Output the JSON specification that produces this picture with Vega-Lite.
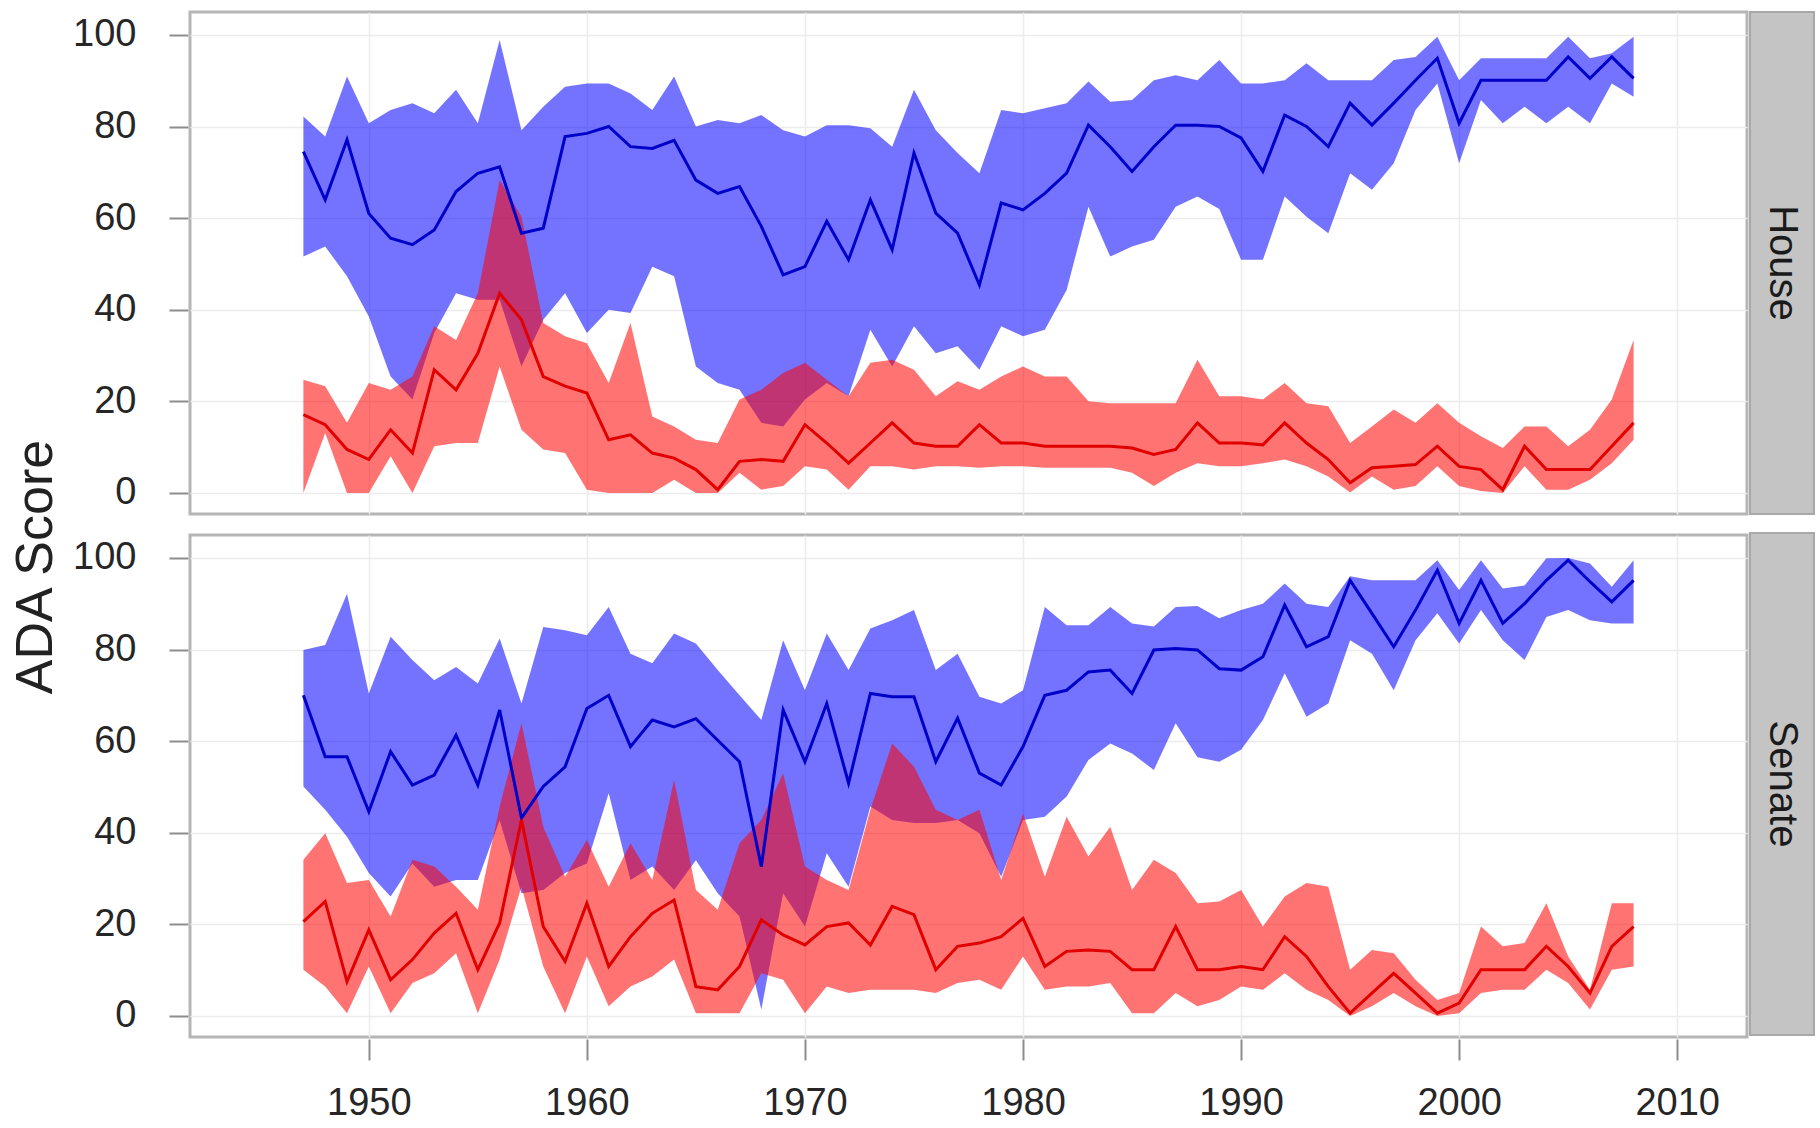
{
"$schema": "https://vega.github.io/schema/vega-lite/v6.json",
"background": "white",
"padding": {"left": 8, "top": 10, "right": 5, "bottom": 3},
"config": {
  "font": "Liberation Sans",
  "view": {"stroke": "#b5b5b5", "strokeWidth": 3},
  "axis": {"labelFont": "Liberation Sans", "labelFontSize": 38, "labelColor": "#262626", "tickColor": "#8c8c8c", "tickWidth": 2, "domain": false, "gridColor": "#ececec", "gridWidth": 1.5}
},
"datasets": {"ada": [
{"chamber":"House","party":"Democrat","year":1947,"low":51.6,"mid":74.5,"high":82.2},
{"chamber":"House","party":"Democrat","year":1948,"low":53.8,"mid":64,"high":77.8},
{"chamber":"House","party":"Democrat","year":1949,"low":47.3,"mid":77.1,"high":90.9},
{"chamber":"House","party":"Democrat","year":1950,"low":38.5,"mid":61,"high":80.7},
{"chamber":"House","party":"Democrat","year":1951,"low":25.4,"mid":55.6,"high":83.6},
{"chamber":"House","party":"Democrat","year":1952,"low":20.4,"mid":54.2,"high":85.1},
{"chamber":"House","party":"Democrat","year":1953,"low":34.9,"mid":57.4,"high":82.9},
{"chamber":"House","party":"Democrat","year":1954,"low":43.6,"mid":65.8,"high":88},
{"chamber":"House","party":"Democrat","year":1955,"low":42.2,"mid":69.8,"high":80.7},
{"chamber":"House","party":"Democrat","year":1956,"low":42.2,"mid":71.2,"high":98.9},
{"chamber":"House","party":"Democrat","year":1957,"low":27.6,"mid":56.7,"high":79.2},
{"chamber":"House","party":"Democrat","year":1958,"low":37.8,"mid":57.8,"high":84.3},
{"chamber":"House","party":"Democrat","year":1959,"low":43.6,"mid":77.8,"high":88.7},
{"chamber":"House","party":"Democrat","year":1960,"low":34.9,"mid":78.5,"high":89.4},
{"chamber":"House","party":"Democrat","year":1961,"low":40,"mid":80,"high":89.4},
{"chamber":"House","party":"Democrat","year":1962,"low":39.3,"mid":75.6,"high":87.2},
{"chamber":"House","party":"Democrat","year":1963,"low":49.4,"mid":75.2,"high":83.6},
{"chamber":"House","party":"Democrat","year":1964,"low":47.3,"mid":77,"high":90.9},
{"chamber":"House","party":"Democrat","year":1965,"low":27.6,"mid":68.3,"high":80},
{"chamber":"House","party":"Democrat","year":1966,"low":24,"mid":65.4,"high":81.4},
{"chamber":"House","party":"Democrat","year":1967,"low":22.5,"mid":66.9,"high":80.7},
{"chamber":"House","party":"Democrat","year":1968,"low":15.3,"mid":58.2,"high":82.5},
{"chamber":"House","party":"Democrat","year":1969,"low":14.5,"mid":47.6,"high":79.2},
{"chamber":"House","party":"Democrat","year":1970,"low":20.4,"mid":49.4,"high":77.8},
{"chamber":"House","party":"Democrat","year":1971,"low":24,"mid":59.3,"high":80.3},
{"chamber":"House","party":"Democrat","year":1972,"low":21.1,"mid":50.9,"high":80.3},
{"chamber":"House","party":"Democrat","year":1973,"low":35.6,"mid":64,"high":79.6},
{"chamber":"House","party":"Democrat","year":1974,"low":27.6,"mid":53.1,"high":75.6},
{"chamber":"House","party":"Democrat","year":1975,"low":36.4,"mid":74.2,"high":88},
{"chamber":"House","party":"Democrat","year":1976,"low":30.5,"mid":61.1,"high":79.2},
{"chamber":"House","party":"Democrat","year":1977,"low":32,"mid":56.7,"high":74.2},
{"chamber":"House","party":"Democrat","year":1978,"low":26.9,"mid":45.4,"high":69.8},
{"chamber":"House","party":"Democrat","year":1979,"low":36.4,"mid":63.3,"high":83.6},
{"chamber":"House","party":"Democrat","year":1980,"low":34.2,"mid":61.8,"high":82.9},
{"chamber":"House","party":"Democrat","year":1981,"low":35.6,"mid":65.4,"high":84},
{"chamber":"House","party":"Democrat","year":1982,"low":44.3,"mid":69.8,"high":85.1},
{"chamber":"House","party":"Democrat","year":1983,"low":62.5,"mid":80.3,"high":89.8},
{"chamber":"House","party":"Democrat","year":1984,"low":51.6,"mid":75.6,"high":85.4},
{"chamber":"House","party":"Democrat","year":1985,"low":53.8,"mid":70.2,"high":85.8},
{"chamber":"House","party":"Democrat","year":1986,"low":55.3,"mid":75.6,"high":90.1},
{"chamber":"House","party":"Democrat","year":1987,"low":62.5,"mid":80.3,"high":91.2},
{"chamber":"House","party":"Democrat","year":1988,"low":64.7,"mid":80.3,"high":90.1},
{"chamber":"House","party":"Democrat","year":1989,"low":62,"mid":80,"high":94.5},
{"chamber":"House","party":"Democrat","year":1990,"low":50.9,"mid":77.5,"high":89.4},
{"chamber":"House","party":"Democrat","year":1991,"low":50.9,"mid":70.2,"high":89.4},
{"chamber":"House","party":"Democrat","year":1992,"low":64.7,"mid":82.5,"high":90.1},
{"chamber":"House","party":"Democrat","year":1993,"low":60.3,"mid":80,"high":93.8},
{"chamber":"House","party":"Democrat","year":1994,"low":56.7,"mid":75.6,"high":90.1},
{"chamber":"House","party":"Democrat","year":1995,"low":69.8,"mid":85.1,"high":90.1},
{"chamber":"House","party":"Democrat","year":1996,"low":66.2,"mid":80.3,"high":90.1},
{"chamber":"House","party":"Democrat","year":1997,"low":72,"mid":85.1,"high":94.5},
{"chamber":"House","party":"Democrat","year":1998,"low":83.6,"mid":90.1,"high":95.2},
{"chamber":"House","party":"Democrat","year":1999,"low":89.4,"mid":94.9,"high":99.6},
{"chamber":"House","party":"Democrat","year":2000,"low":72,"mid":80.7,"high":90.1},
{"chamber":"House","party":"Democrat","year":2001,"low":85.8,"mid":90.1,"high":94.9},
{"chamber":"House","party":"Democrat","year":2002,"low":80.7,"mid":90.1,"high":94.9},
{"chamber":"House","party":"Democrat","year":2003,"low":84.3,"mid":90.1,"high":94.9},
{"chamber":"House","party":"Democrat","year":2004,"low":80.7,"mid":90.1,"high":94.9},
{"chamber":"House","party":"Democrat","year":2005,"low":84.3,"mid":95.2,"high":99.6},
{"chamber":"House","party":"Democrat","year":2006,"low":80.7,"mid":90.5,"high":94.9},
{"chamber":"House","party":"Democrat","year":2007,"low":89.4,"mid":95.2,"high":96},
{"chamber":"House","party":"Democrat","year":2008,"low":86.5,"mid":90.5,"high":99.6},
{"chamber":"House","party":"Republican","year":1947,"low":0,"mid":17.1,"high":24.7},
{"chamber":"House","party":"Republican","year":1948,"low":13.1,"mid":14.9,"high":23.3},
{"chamber":"House","party":"Republican","year":1949,"low":0,"mid":9.5,"high":15.3},
{"chamber":"House","party":"Republican","year":1950,"low":0,"mid":7.3,"high":24},
{"chamber":"House","party":"Republican","year":1951,"low":8,"mid":13.8,"high":22.5},
{"chamber":"House","party":"Republican","year":1952,"low":0,"mid":8.7,"high":25.4},
{"chamber":"House","party":"Republican","year":1953,"low":10.2,"mid":26.9,"high":36.4},
{"chamber":"House","party":"Republican","year":1954,"low":10.9,"mid":22.5,"high":33.4},
{"chamber":"House","party":"Republican","year":1955,"low":10.9,"mid":30.5,"high":43.6},
{"chamber":"House","party":"Republican","year":1956,"low":27.6,"mid":43.6,"high":68.3},
{"chamber":"House","party":"Republican","year":1957,"low":13.8,"mid":37.8,"high":60.3},
{"chamber":"House","party":"Republican","year":1958,"low":9.5,"mid":25.4,"high":37.1},
{"chamber":"House","party":"Republican","year":1959,"low":8.7,"mid":23.3,"high":34.2},
{"chamber":"House","party":"Republican","year":1960,"low":0.7,"mid":21.8,"high":32.7},
{"chamber":"House","party":"Republican","year":1961,"low":0,"mid":11.6,"high":24},
{"chamber":"House","party":"Republican","year":1962,"low":0,"mid":12.7,"high":37.1},
{"chamber":"House","party":"Republican","year":1963,"low":0,"mid":8.7,"high":16.7},
{"chamber":"House","party":"Republican","year":1964,"low":2.9,"mid":7.6,"high":14.5},
{"chamber":"House","party":"Republican","year":1965,"low":0,"mid":5.1,"high":11.6},
{"chamber":"House","party":"Republican","year":1966,"low":0,"mid":0.7,"high":10.9},
{"chamber":"House","party":"Republican","year":1967,"low":4.4,"mid":6.9,"high":20.4},
{"chamber":"House","party":"Republican","year":1968,"low":0.7,"mid":7.3,"high":22.5},
{"chamber":"House","party":"Republican","year":1969,"low":1.5,"mid":6.9,"high":26.2},
{"chamber":"House","party":"Republican","year":1970,"low":5.8,"mid":14.9,"high":28.4},
{"chamber":"House","party":"Republican","year":1971,"low":5.1,"mid":10.9,"high":24.7},
{"chamber":"House","party":"Republican","year":1972,"low":0.7,"mid":6.5,"high":21.1},
{"chamber":"House","party":"Republican","year":1973,"low":5.8,"mid":10.9,"high":28.4},
{"chamber":"House","party":"Republican","year":1974,"low":5.8,"mid":15.3,"high":29.1},
{"chamber":"House","party":"Republican","year":1975,"low":5.1,"mid":10.9,"high":26.9},
{"chamber":"House","party":"Republican","year":1976,"low":5.8,"mid":10.2,"high":21.1},
{"chamber":"House","party":"Republican","year":1977,"low":5.8,"mid":10.2,"high":24.4},
{"chamber":"House","party":"Republican","year":1978,"low":5.5,"mid":14.9,"high":22.5},
{"chamber":"House","party":"Republican","year":1979,"low":5.8,"mid":10.9,"high":25.4},
{"chamber":"House","party":"Republican","year":1980,"low":5.8,"mid":10.9,"high":27.6},
{"chamber":"House","party":"Republican","year":1981,"low":5.5,"mid":10.2,"high":25.4},
{"chamber":"House","party":"Republican","year":1982,"low":5.5,"mid":10.2,"high":25.4},
{"chamber":"House","party":"Republican","year":1983,"low":5.5,"mid":10.2,"high":20},
{"chamber":"House","party":"Republican","year":1984,"low":5.5,"mid":10.2,"high":19.6},
{"chamber":"House","party":"Republican","year":1985,"low":4.4,"mid":9.8,"high":19.6},
{"chamber":"House","party":"Republican","year":1986,"low":1.5,"mid":8.4,"high":19.6},
{"chamber":"House","party":"Republican","year":1987,"low":4.4,"mid":9.5,"high":19.6},
{"chamber":"House","party":"Republican","year":1988,"low":6.5,"mid":15.3,"high":29.1},
{"chamber":"House","party":"Republican","year":1989,"low":5.8,"mid":10.9,"high":21.1},
{"chamber":"House","party":"Republican","year":1990,"low":5.8,"mid":10.9,"high":21.1},
{"chamber":"House","party":"Republican","year":1991,"low":6.5,"mid":10.5,"high":20.4},
{"chamber":"House","party":"Republican","year":1992,"low":7.3,"mid":15.3,"high":24},
{"chamber":"House","party":"Republican","year":1993,"low":5.8,"mid":10.9,"high":19.6},
{"chamber":"House","party":"Republican","year":1994,"low":3.6,"mid":7.3,"high":18.9},
{"chamber":"House","party":"Republican","year":1995,"low":0.1,"mid":2.2,"high":10.9},
{"chamber":"House","party":"Republican","year":1996,"low":3.6,"mid":5.5,"high":14.5},
{"chamber":"House","party":"Republican","year":1997,"low":0.7,"mid":5.8,"high":18.2},
{"chamber":"House","party":"Republican","year":1998,"low":1.5,"mid":6.2,"high":15.3},
{"chamber":"House","party":"Republican","year":1999,"low":5.8,"mid":10.2,"high":19.6},
{"chamber":"House","party":"Republican","year":2000,"low":1.5,"mid":5.8,"high":15.3},
{"chamber":"House","party":"Republican","year":2001,"low":0.4,"mid":5.1,"high":12.4},
{"chamber":"House","party":"Republican","year":2002,"low":0,"mid":0.7,"high":9.8},
{"chamber":"House","party":"Republican","year":2003,"low":5.8,"mid":10.2,"high":14.5},
{"chamber":"House","party":"Republican","year":2004,"low":0.7,"mid":5.1,"high":14.5},
{"chamber":"House","party":"Republican","year":2005,"low":0.7,"mid":5.1,"high":10.2},
{"chamber":"House","party":"Republican","year":2006,"low":2.9,"mid":5.1,"high":13.8},
{"chamber":"House","party":"Republican","year":2007,"low":6.5,"mid":10.2,"high":20.4},
{"chamber":"House","party":"Republican","year":2008,"low":11.6,"mid":15.3,"high":33.4},
{"chamber":"Senate","party":"Democrat","year":1947,"low":50.1,"mid":70,"high":79.9},
{"chamber":"Senate","party":"Democrat","year":1948,"low":45,"mid":56.6,"high":81},
{"chamber":"Senate","party":"Democrat","year":1949,"low":39.1,"mid":56.6,"high":92.2},
{"chamber":"Senate","party":"Democrat","year":1950,"low":31.2,"mid":44.6,"high":70.4},
{"chamber":"Senate","party":"Democrat","year":1951,"low":26.1,"mid":57.7,"high":82.8},
{"chamber":"Senate","party":"Democrat","year":1952,"low":33.3,"mid":50.4,"high":77.7},
{"chamber":"Senate","party":"Democrat","year":1953,"low":28.2,"mid":52.6,"high":73.3},
{"chamber":"Senate","party":"Democrat","year":1954,"low":29.7,"mid":61.3,"high":76.2},
{"chamber":"Senate","party":"Democrat","year":1955,"low":29.7,"mid":50.4,"high":72.6},
{"chamber":"Senate","party":"Democrat","year":1956,"low":42.7,"mid":66.8,"high":82.4},
{"chamber":"Senate","party":"Democrat","year":1957,"low":26.8,"mid":43.2,"high":68.2},
{"chamber":"Senate","party":"Democrat","year":1958,"low":27.5,"mid":50.1,"high":84.9},
{"chamber":"Senate","party":"Democrat","year":1959,"low":31.2,"mid":54.4,"high":84.2},
{"chamber":"Senate","party":"Democrat","year":1960,"low":33.3,"mid":67.1,"high":83.1},
{"chamber":"Senate","party":"Democrat","year":1961,"low":48.6,"mid":70,"high":89.3},
{"chamber":"Senate","party":"Democrat","year":1962,"low":29.7,"mid":58.8,"high":79.1},
{"chamber":"Senate","party":"Democrat","year":1963,"low":32.6,"mid":64.6,"high":77},
{"chamber":"Senate","party":"Democrat","year":1964,"low":27.5,"mid":63.1,"high":83.5},
{"chamber":"Senate","party":"Democrat","year":1965,"low":34,"mid":64.9,"high":81.3},
{"chamber":"Senate","party":"Democrat","year":1966,"low":26.8,"mid":60.2,"high":75.5},
{"chamber":"Senate","party":"Democrat","year":1967,"low":21.7,"mid":55.5,"high":70},
{"chamber":"Senate","party":"Democrat","year":1968,"low":1.4,"mid":32.6,"high":64.6},
{"chamber":"Senate","party":"Democrat","year":1969,"low":26.8,"mid":66.8,"high":82},
{"chamber":"Senate","party":"Democrat","year":1970,"low":19.5,"mid":55.5,"high":71.1},
{"chamber":"Senate","party":"Democrat","year":1971,"low":35.5,"mid":68.2,"high":83.5},
{"chamber":"Senate","party":"Democrat","year":1972,"low":28.2,"mid":50.8,"high":75.5},
{"chamber":"Senate","party":"Democrat","year":1973,"low":45.7,"mid":70.4,"high":84.6},
{"chamber":"Senate","party":"Democrat","year":1974,"low":42.8,"mid":69.7,"high":86.4},
{"chamber":"Senate","party":"Democrat","year":1975,"low":42.1,"mid":69.7,"high":88.6},
{"chamber":"Senate","party":"Democrat","year":1976,"low":42.1,"mid":55.5,"high":75.5},
{"chamber":"Senate","party":"Democrat","year":1977,"low":42.8,"mid":65,"high":79.1},
{"chamber":"Senate","party":"Democrat","year":1978,"low":39.9,"mid":53,"high":69.7},
{"chamber":"Senate","party":"Democrat","year":1979,"low":30.4,"mid":50.4,"high":68.2},
{"chamber":"Senate","party":"Democrat","year":1980,"low":42.8,"mid":58.8,"high":71.1},
{"chamber":"Senate","party":"Democrat","year":1981,"low":43.5,"mid":70,"high":89.3},
{"chamber":"Senate","party":"Democrat","year":1982,"low":47.9,"mid":71.1,"high":85.3},
{"chamber":"Senate","party":"Democrat","year":1983,"low":55.9,"mid":75.1,"high":85.3},
{"chamber":"Senate","party":"Democrat","year":1984,"low":59.5,"mid":75.5,"high":89.3},
{"chamber":"Senate","party":"Democrat","year":1985,"low":57.3,"mid":70.4,"high":85.7},
{"chamber":"Senate","party":"Democrat","year":1986,"low":53.7,"mid":79.9,"high":85},
{"chamber":"Senate","party":"Democrat","year":1987,"low":63.9,"mid":80.2,"high":89.3},
{"chamber":"Senate","party":"Democrat","year":1988,"low":56.5,"mid":79.9,"high":89.5},
{"chamber":"Senate","party":"Democrat","year":1989,"low":55.5,"mid":75.8,"high":86.8},
{"chamber":"Senate","party":"Democrat","year":1990,"low":58.1,"mid":75.5,"high":88.6},
{"chamber":"Senate","party":"Democrat","year":1991,"low":64.6,"mid":78.4,"high":90},
{"chamber":"Senate","party":"Democrat","year":1992,"low":74.8,"mid":89.7,"high":94.4},
{"chamber":"Senate","party":"Democrat","year":1993,"low":65.3,"mid":80.6,"high":90},
{"chamber":"Senate","party":"Democrat","year":1994,"low":68.2,"mid":82.8,"high":89.3},
{"chamber":"Senate","party":"Democrat","year":1995,"low":82,"mid":95.1,"high":96},
{"chamber":"Senate","party":"Democrat","year":1996,"low":79.1,"mid":87.9,"high":95.1},
{"chamber":"Senate","party":"Democrat","year":1997,"low":71.1,"mid":80.6,"high":95.1},
{"chamber":"Senate","party":"Democrat","year":1998,"low":82,"mid":88.6,"high":95.1},
{"chamber":"Senate","party":"Democrat","year":1999,"low":87.9,"mid":97.3,"high":99.5},
{"chamber":"Senate","party":"Democrat","year":2000,"low":81.3,"mid":85.7,"high":93},
{"chamber":"Senate","party":"Democrat","year":2001,"low":88.6,"mid":95.1,"high":99.5},
{"chamber":"Senate","party":"Democrat","year":2002,"low":82,"mid":85.7,"high":93.3},
{"chamber":"Senate","party":"Democrat","year":2003,"low":77.7,"mid":90,"high":94},
{"chamber":"Senate","party":"Democrat","year":2004,"low":87.1,"mid":95.1,"high":99.9},
{"chamber":"Senate","party":"Democrat","year":2005,"low":88.6,"mid":99.5,"high":100},
{"chamber":"Senate","party":"Democrat","year":2006,"low":86.4,"mid":94.8,"high":98.8},
{"chamber":"Senate","party":"Democrat","year":2007,"low":85.7,"mid":90.4,"high":93.7},
{"chamber":"Senate","party":"Democrat","year":2008,"low":85.7,"mid":95.1,"high":99.5},
{"chamber":"Senate","party":"Republican","year":1947,"low":10.1,"mid":20.6,"high":34.1},
{"chamber":"Senate","party":"Republican","year":1948,"low":6.4,"mid":25,"high":39.9},
{"chamber":"Senate","party":"Republican","year":1949,"low":0.6,"mid":7.5,"high":29},
{"chamber":"Senate","party":"Republican","year":1950,"low":10.8,"mid":18.8,"high":29.7},
{"chamber":"Senate","party":"Republican","year":1951,"low":0.6,"mid":7.9,"high":21.7},
{"chamber":"Senate","party":"Republican","year":1952,"low":7.2,"mid":12.3,"high":34.1},
{"chamber":"Senate","party":"Republican","year":1953,"low":9.3,"mid":18.1,"high":32.6},
{"chamber":"Senate","party":"Republican","year":1954,"low":13.7,"mid":22.4,"high":28.2},
{"chamber":"Senate","party":"Republican","year":1955,"low":0.6,"mid":10.1,"high":23.2},
{"chamber":"Senate","party":"Republican","year":1956,"low":12.3,"mid":20.3,"high":45.7},
{"chamber":"Senate","party":"Republican","year":1957,"low":28.2,"mid":42.8,"high":63.9},
{"chamber":"Senate","party":"Republican","year":1958,"low":10.8,"mid":19.5,"high":41.3},
{"chamber":"Senate","party":"Republican","year":1959,"low":0.6,"mid":11.9,"high":30.4},
{"chamber":"Senate","party":"Republican","year":1960,"low":13,"mid":24.6,"high":38.4},
{"chamber":"Senate","party":"Republican","year":1961,"low":2.1,"mid":10.8,"high":28.2},
{"chamber":"Senate","party":"Republican","year":1962,"low":6.4,"mid":17.3,"high":37.7},
{"chamber":"Senate","party":"Republican","year":1963,"low":8.6,"mid":22.4,"high":29.7},
{"chamber":"Senate","party":"Republican","year":1964,"low":12.3,"mid":25.3,"high":51.5},
{"chamber":"Senate","party":"Republican","year":1965,"low":0.6,"mid":6.4,"high":27.5},
{"chamber":"Senate","party":"Republican","year":1966,"low":0.6,"mid":5.7,"high":23.2},
{"chamber":"Senate","party":"Republican","year":1967,"low":0.6,"mid":10.8,"high":37.7},
{"chamber":"Senate","party":"Republican","year":1968,"low":9.3,"mid":21,"high":42.8},
{"chamber":"Senate","party":"Republican","year":1969,"low":7.9,"mid":17.7,"high":53},
{"chamber":"Senate","party":"Republican","year":1970,"low":0.6,"mid":15.5,"high":32.6},
{"chamber":"Senate","party":"Republican","year":1971,"low":6.4,"mid":19.5,"high":29.7},
{"chamber":"Senate","party":"Republican","year":1972,"low":5,"mid":20.3,"high":27.5},
{"chamber":"Senate","party":"Republican","year":1973,"low":5.7,"mid":15.5,"high":45},
{"chamber":"Senate","party":"Republican","year":1974,"low":5.7,"mid":23.9,"high":59.5},
{"chamber":"Senate","party":"Republican","year":1975,"low":5.7,"mid":22.1,"high":54.4},
{"chamber":"Senate","party":"Republican","year":1976,"low":5,"mid":10.1,"high":45},
{"chamber":"Senate","party":"Republican","year":1977,"low":7.2,"mid":15.2,"high":42.8},
{"chamber":"Senate","party":"Republican","year":1978,"low":7.9,"mid":15.9,"high":45},
{"chamber":"Senate","party":"Republican","year":1979,"low":5.7,"mid":17.3,"high":29.7},
{"chamber":"Senate","party":"Republican","year":1980,"low":13,"mid":21.3,"high":44.2},
{"chamber":"Senate","party":"Republican","year":1981,"low":5.7,"mid":10.8,"high":30.4},
{"chamber":"Senate","party":"Republican","year":1982,"low":6.4,"mid":14.1,"high":43.5},
{"chamber":"Senate","party":"Republican","year":1983,"low":6.4,"mid":14.4,"high":34.8},
{"chamber":"Senate","party":"Republican","year":1984,"low":7.2,"mid":14.1,"high":41.3},
{"chamber":"Senate","party":"Republican","year":1985,"low":0.6,"mid":10.1,"high":27.5},
{"chamber":"Senate","party":"Republican","year":1986,"low":0.6,"mid":10.1,"high":34.1},
{"chamber":"Senate","party":"Republican","year":1987,"low":5,"mid":19.5,"high":31.2},
{"chamber":"Senate","party":"Republican","year":1988,"low":2.1,"mid":10.1,"high":24.6},
{"chamber":"Senate","party":"Republican","year":1989,"low":3.5,"mid":10.1,"high":25},
{"chamber":"Senate","party":"Republican","year":1990,"low":6.4,"mid":10.8,"high":27.5},
{"chamber":"Senate","party":"Republican","year":1991,"low":5.7,"mid":10.1,"high":19.5},
{"chamber":"Senate","party":"Republican","year":1992,"low":9.3,"mid":17.3,"high":26.1},
{"chamber":"Senate","party":"Republican","year":1993,"low":5.7,"mid":13,"high":29},
{"chamber":"Senate","party":"Republican","year":1994,"low":3.5,"mid":6.4,"high":28.2},
{"chamber":"Senate","party":"Republican","year":1995,"low":0,"mid":0.6,"high":10.1},
{"chamber":"Senate","party":"Republican","year":1996,"low":2.1,"mid":5,"high":14.4},
{"chamber":"Senate","party":"Republican","year":1997,"low":5,"mid":9.3,"high":13.7},
{"chamber":"Senate","party":"Republican","year":1998,"low":2.1,"mid":5,"high":7.9},
{"chamber":"Senate","party":"Republican","year":1999,"low":0,"mid":0.6,"high":3.5},
{"chamber":"Senate","party":"Republican","year":2000,"low":0.6,"mid":2.8,"high":5},
{"chamber":"Senate","party":"Republican","year":2001,"low":5,"mid":10.1,"high":19.5},
{"chamber":"Senate","party":"Republican","year":2002,"low":5.7,"mid":10.1,"high":15.2},
{"chamber":"Senate","party":"Republican","year":2003,"low":5.7,"mid":10.1,"high":15.9},
{"chamber":"Senate","party":"Republican","year":2004,"low":10.1,"mid":15.2,"high":24.6},
{"chamber":"Senate","party":"Republican","year":2005,"low":7.2,"mid":10.8,"high":13},
{"chamber":"Senate","party":"Republican","year":2006,"low":1.4,"mid":5,"high":5.7},
{"chamber":"Senate","party":"Republican","year":2007,"low":10.1,"mid":15.2,"high":24.6},
{"chamber":"Senate","party":"Republican","year":2008,"low":10.8,"mid":19.5,"high":24.6}
]},
"spacing": 8,
"hconcat": [
 {"width": 56, "height": 1110,
  "view": {"stroke": null},
  "data": {"values": [{"label": "ADA Score"}]},
  "mark": {"type": "text", "angle": 270, "fontSize": 52, "color": "#222222", "font": "Liberation Sans"},
  "encoding": {"text": {"field": "label"}}},
 {"spacing": 0,
  "hconcat": [
  {"data": {"name": "ada"},
   "facet": {"row": {"field": "chamber", "type": "nominal", "header": {"labels": false, "title": null}}},
   "spacing": 17,
   "spec": {
    "width": 1557, "height": 502,
    "encoding": {"x": {"field": "year", "type": "quantitative", "scale": {"domain": [1941.8, 2013.2], "nice": false, "zero": false}, "axis": {"values": [1950,1960,1970,1980,1990,2000,2010], "format": "d", "tickSize": 21, "labelPadding": 24, "title": null, "grid": true}}},
    "layer": [
     {"transform": [{"filter": "datum.party === 'Democrat'"}], "mark": {"type": "area", "color": "#0000ff", "opacity": 0.55},
      "encoding": {"y": {"field": "low", "type": "quantitative", "scale": {"domain": [-4.6, 105], "nice": false, "zero": false}, "axis": {"values": [0,20,40,60,80,100], "tickSize": 19, "labelPadding": 33, "grid": true, "title": null}}, "y2": {"field": "high"}}},
     {"transform": [{"filter": "datum.party === 'Republican'"}], "mark": {"type": "area", "color": "#ff0000", "opacity": 0.55},
      "encoding": {"y": {"field": "low", "type": "quantitative"}, "y2": {"field": "high"}}},
     {"transform": [{"filter": "datum.party === 'Democrat'"}], "mark": {"type": "line", "color": "#0000c8", "strokeWidth": 3},
      "encoding": {"y": {"field": "mid", "type": "quantitative"}}},
     {"transform": [{"filter": "datum.party === 'Republican'"}], "mark": {"type": "line", "color": "#e00000", "strokeWidth": 3},
      "encoding": {"y": {"field": "mid", "type": "quantitative"}}}
    ]}},
  {"data": {"name": "ada"},
   "transform": [{"aggregate": [{"op": "count", "as": "n"}], "groupby": ["chamber"]}],
   "facet": {"row": {"field": "chamber", "type": "nominal", "header": {"labels": false, "title": null}}},
   "spacing": 17,
   "spec": {
    "width": 64, "height": 502,
    "layer": [
     {"mark": {"type": "rect", "color": "#c4c4c4", "stroke": "#a8a8a8", "strokeWidth": 2}, "encoding": {}},
     {"mark": {"type": "text", "angle": 90, "fontSize": 40, "color": "#1a1a1a", "font": "Liberation Sans"}, "encoding": {"text": {"field": "chamber"}}}
    ]}}
 ]}
]
}
